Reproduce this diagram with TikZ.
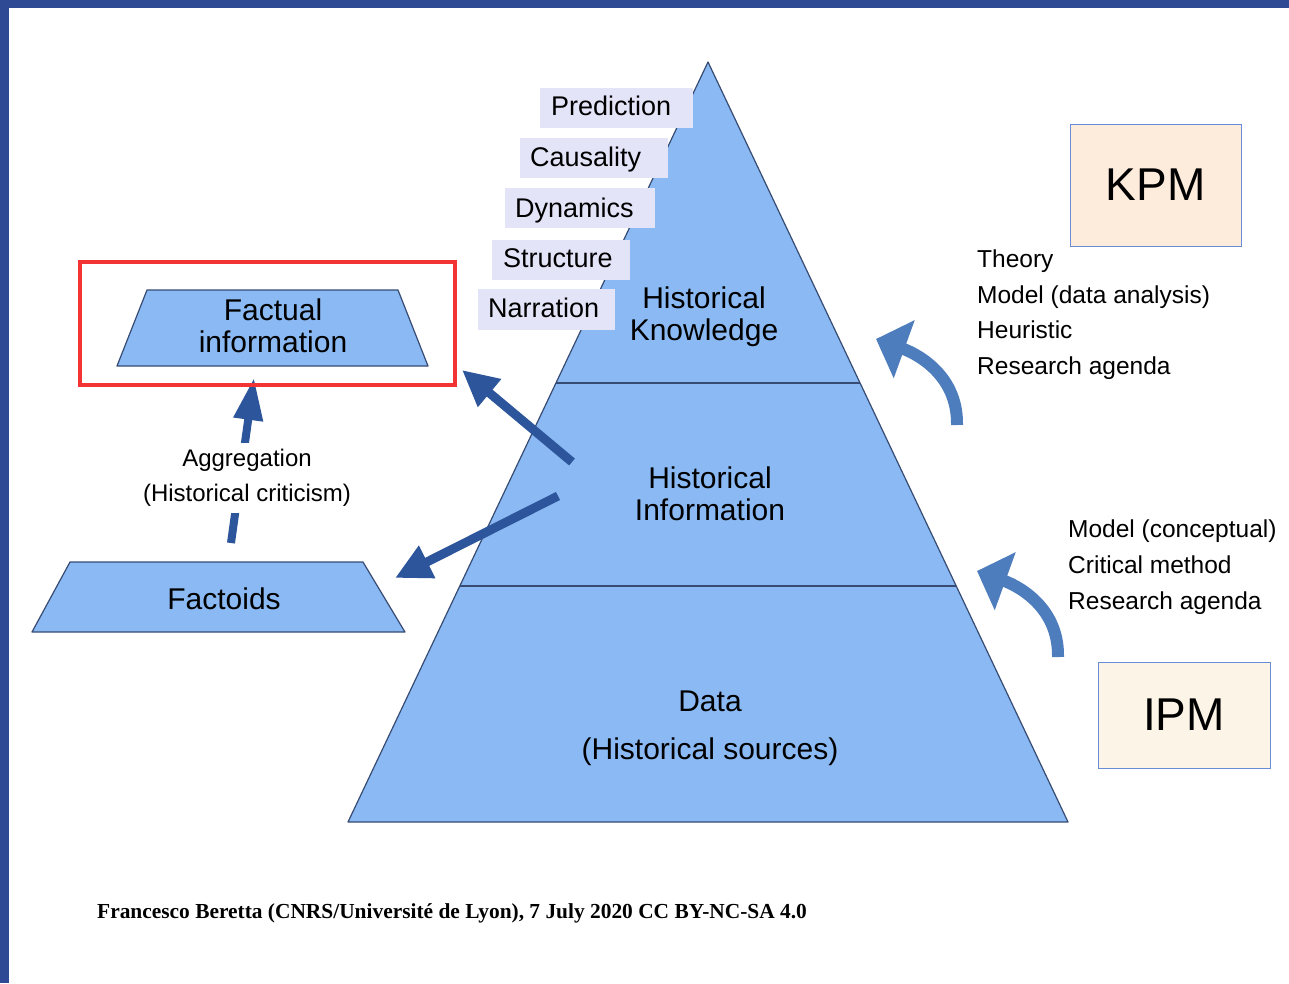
\documentclass[tikz,border=0pt]{standalone}
\usepackage{fontspec}
\setmainfont{Liberation Sans}
\newfontfamily\timesfam{Liberation Serif}
\usetikzlibrary{arrows.meta}
\definecolor{frameblue}{RGB}{46,74,148}
\definecolor{pyrfill}{RGB}{138,185,243}
\definecolor{pyrline}{RGB}{55,75,115}
\definecolor{lav}{RGB}{228,228,248}
\definecolor{arrblue}{RGB}{45,85,155}
\definecolor{curblue}{RGB}{78,125,190}
\definecolor{redbox}{RGB}{243,52,52}
\definecolor{kpmfill}{RGB}{253,235,220}
\definecolor{ipmfill}{RGB}{252,244,230}
\definecolor{boxline}{RGB}{105,140,215}
\tikzset{
  pyr/.style={fill=pyrfill, draw=pyrline, line width=1.2pt, line join=round},
  lblbox/.style={fill=lav, inner sep=0pt, minimum height=40pt},
  lbltxt/.style={anchor=base west, inner sep=0pt, font=\fontsize{27}{30}\selectfont},
  bigtxt/.style={align=center, inner sep=0pt, font=\fontsize{30}{32}\selectfont},
  listtxt/.style={anchor=base west, inner sep=0pt, font=\fontsize{24.5}{28}\selectfont},
  sarrow/.style={draw=arrblue, line width=9pt, -{Triangle[width=34pt,length=36pt]}},
  agarrow/.style={draw=arrblue, line width=8pt, -{Triangle[width=28pt,length=42pt]}},
  carrow/.style={draw=curblue, line width=12pt, -{Triangle[width=60pt,length=30pt]}},
  modelbox/.style={draw=boxline, line width=1pt, inner sep=0pt, font=\fontsize{46}{50}\selectfont}
}
\begin{document}
\begin{tikzpicture}[x=1pt,y=-1pt]
\useasboundingbox (0,0) rectangle (1289,983);
\fill[white] (0,0) rectangle (1289,983);
\fill[frameblue] (0,0) rectangle (1289,8);
\fill[frameblue] (0,0) rectangle (9,983);

% pyramid
\coordinate (apex) at (708,62);
\coordinate (bl) at (348,822);
\coordinate (br) at (1068,822);
\coordinate (l1) at (556,383);
\coordinate (r1) at (860,383);
\coordinate (l2) at (460,586);
\coordinate (r2) at (956,586);
\path[pyr] (apex) -- (bl) -- (br) -- cycle;
\draw[pyrline, line width=1.2pt] (l1) -- (r1);
\draw[pyrline, line width=1.2pt] (l2) -- (r2);

% label boxes
\node[lblbox, minimum width=153pt] (predbox) at (616.5,108) {};
\node[lblbox, minimum width=148pt] (causbox) at (594,158) {};
\node[lblbox, minimum width=150pt] (dynbox) at (580,208) {};
\node[lblbox, minimum width=138pt] (strbox) at (561,260) {};
\node[lblbox, minimum width=137pt, minimum height=41pt] (narbox) at (546.5,309.5) {};
\node[lbltxt] (pred) at (551,115) {Prediction};
\node[lbltxt] (caus) at (530,166) {Causality};
\node[lbltxt] (dyn) at (515,217) {Dynamics};
\node[lbltxt] (str) at (503,267) {Structure};
\node[lbltxt] (nar) at (488,317) {Narration};

% pyramid texts
\node[bigtxt] (hk) at (704,317) {Historical\\Knowledge};
\node[bigtxt] (hi) at (710,494) {Historical\\Information};
\node[bigtxt] (data) at (710,701) {Data};
\node[bigtxt] (src) at (710,752) {(Historical sources)};

% left trapezia
\coordinate (f1) at (147,290);
\coordinate (f2) at (398,290);
\coordinate (f3) at (428,366);
\coordinate (f4) at (117,366);
\path[pyr] (f1) -- (f2) -- (f3) -- (f4) -- cycle;
\node[bigtxt] (fact) at (273,326) {Factual\\information};

\coordinate (g1) at (70,562);
\coordinate (g2) at (363,562);
\coordinate (g3) at (405,632);
\coordinate (g4) at (32,632);
\path[pyr] (g1) -- (g2) -- (g3) -- (g4) -- cycle;
\node[bigtxt] (factoids) at (224,599) {Factoids};

% arrows from Historical Information
\coordinate (a1s) at (572,462);
\coordinate (a1e) at (462,370);
\coordinate (a2s) at (558,496);
\coordinate (a2e) at (395,578);
\draw[sarrow] (a1s) -- (a1e);
\draw[sarrow] (a2s) -- (a2e);

% aggregation arrow
\coordinate (ags) at (231,543);
\coordinate (age) at (254,378);
\draw[agarrow] (ags) -- (age);
\node[fill=white, align=center, inner xsep=4pt, inner ysep=6pt, font=\fontsize{24}{35}\selectfont] (agg) at (247,478) {Aggregation\\(Historical criticism)};

% curved arrows
\coordinate (k1) at (957,425);
\coordinate (k2) at (876,339);
\draw[carrow] (k1) .. controls (958,372) and (912,352) .. (k2);
\coordinate (i1) at (1058,657);
\coordinate (i2) at (977,571);
\draw[carrow] (i1) .. controls (1059,604) and (1013,584) .. (i2);

% model boxes
\node[modelbox, fill=kpmfill, minimum width=171pt, minimum height=122pt] (kpm) at (1155.5,185) {KPM};
\node[modelbox, fill=ipmfill, minimum width=172pt, minimum height=106pt] (ipm) at (1184,715) {IPM};

% lists
\node[listtxt] (t1) at (977,267) {Theory};
\node[listtxt] (t2) at (977,303) {Model (data analysis)};
\node[listtxt] (t3) at (977,338.5) {Heuristic};
\node[listtxt] (t4) at (977,374) {Research agenda};
\node[listtxt] (m1) at (1068,537) {Model (conceptual)};
\node[listtxt] (m2) at (1068,573) {Critical method};
\node[listtxt] (m3) at (1068,609) {Research agenda};

% footer
\node[anchor=base west, inner sep=0pt, font=\timesfam\bfseries\fontsize{21.4}{22}\selectfont] (foot) at (97,918) {Francesco Beretta (CNRS/Université de Lyon), 7 July 2020 CC BY-NC-SA 4.0};

% red highlight
\node[draw=redbox, line width=3.5pt, minimum width=375pt, minimum height=123pt, inner sep=0pt] (hl) at (267.5,323.5) {};
\end{tikzpicture}
\end{document}
